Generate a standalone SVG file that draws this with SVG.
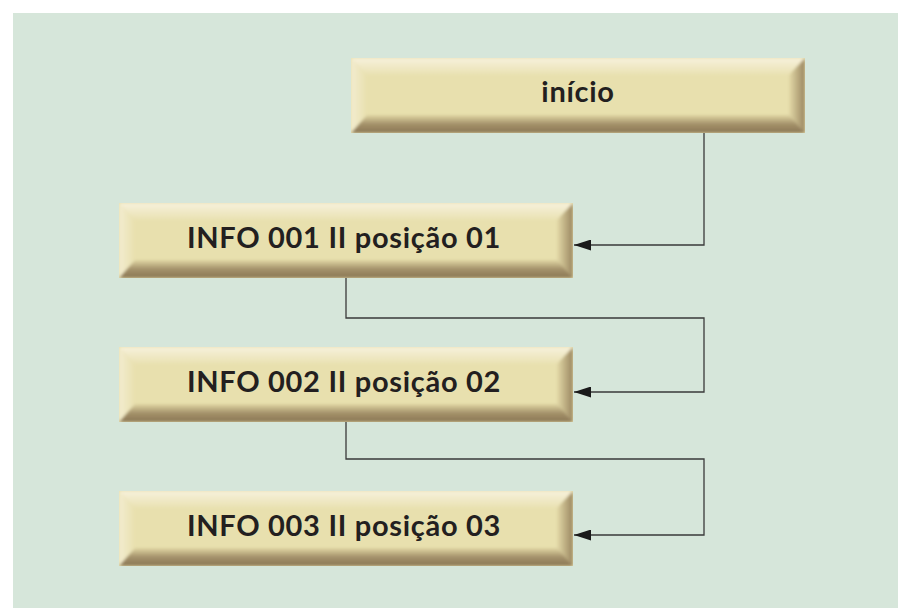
<svg xmlns="http://www.w3.org/2000/svg" xmlns:xlink="http://www.w3.org/1999/xlink" width="898" height="608" viewBox="0 0 898 608">
  <style>
    .label { font-family: Lato, "Open Sans", "DejaVu Sans", sans-serif; font-weight: bold; font-size: 29px; letter-spacing: 0.7px; fill: #231f20; text-anchor: middle; }
    .wire { fill: none; stroke: #3a3a3a; stroke-width: 1.3; marker-end: url(#arrow); }
  </style>
  <defs>
    <linearGradient id="gTop" x1="0" y1="0" x2="0" y2="1">
      <stop offset="0" stop-color="#f7f1dc"/>
      <stop offset="1" stop-color="#e9e1b1"/>
    </linearGradient>
    <linearGradient id="gLeft" x1="0" y1="0" x2="1" y2="0">
      <stop offset="0" stop-color="#f3ecd0"/>
      <stop offset="1" stop-color="#e8e0ae"/>
    </linearGradient>
    <linearGradient id="gRight" x1="0" y1="0" x2="1" y2="0">
      <stop offset="0" stop-color="#e3d9a7"/>
      <stop offset="1" stop-color="#9a8660"/>
    </linearGradient>
    <linearGradient id="gBottom" x1="0" y1="0" x2="0" y2="1">
      <stop offset="0" stop-color="#e0d6a3"/>
      <stop offset="0.5" stop-color="#a4916a"/>
      <stop offset="1" stop-color="#8a7654"/>
    </linearGradient>
    <filter id="soft" x="-5%" y="-20%" width="110%" height="140%">
      <feGaussianBlur stdDeviation="1.6"/>
    </filter>
    <clipPath id="boxClip" clipPathUnits="objectBoundingBox">
      <rect x="0" y="0" width="1" height="1"/>
    </clipPath>
    <!-- bevelled button, 454 x 75 -->
    <g id="bevel" clip-path="url(#boxClip)">
      <rect x="0" y="0" width="454" height="75" fill="#e8e0ae"/>
      <g filter="url(#soft)">
        <polygon points="0,0 454,0 438,17 16,17" fill="url(#gTop)"/>
        <polygon points="0,0 16,17 16,57 0,75" fill="url(#gLeft)"/>
        <polygon points="454,0 454,75 438,57 438,17" fill="url(#gRight)"/>
        <polygon points="0,75 16,57 438,57 454,75" fill="url(#gBottom)"/>
      </g>
    </g>
    <marker id="arrow" viewBox="0 0 17 11" refX="17" refY="5.5" markerWidth="17" markerHeight="11" markerUnits="userSpaceOnUse" orient="auto">
      <path d="M0,0 L17,5.5 L0,11 Z" fill="#1a1a1a"/>
    </marker>
  </defs>

  <rect x="0" y="0" width="898" height="608" fill="#ffffff"/>
  <rect x="13" y="13" width="885" height="595" fill="#d6e6da"/>

  <g id="connectors">
    <path class="wire" d="M704,133 V245 H574"/>
    <path class="wire" d="M346,278 V318 H704 V392 H574"/>
    <path class="wire" d="M346,422 V459 H704 V535 H574"/>
  </g>

  <g id="node-inicio">
    <use xlink:href="#bevel" x="351" y="58"/>
    <text class="label" x="578" y="102">início</text>
  </g>
  <g id="node-info001">
    <use xlink:href="#bevel" x="119" y="203"/>
    <text class="label" x="344" y="248">INFO 001 II posição 01</text>
  </g>
  <g id="node-info002">
    <use xlink:href="#bevel" x="119" y="347"/>
    <text class="label" x="344" y="392">INFO 002 II posição 02</text>
  </g>
  <g id="node-info003">
    <use xlink:href="#bevel" x="119" y="491"/>
    <text class="label" x="344" y="536">INFO 003 II posição 03</text>
  </g>
</svg>
